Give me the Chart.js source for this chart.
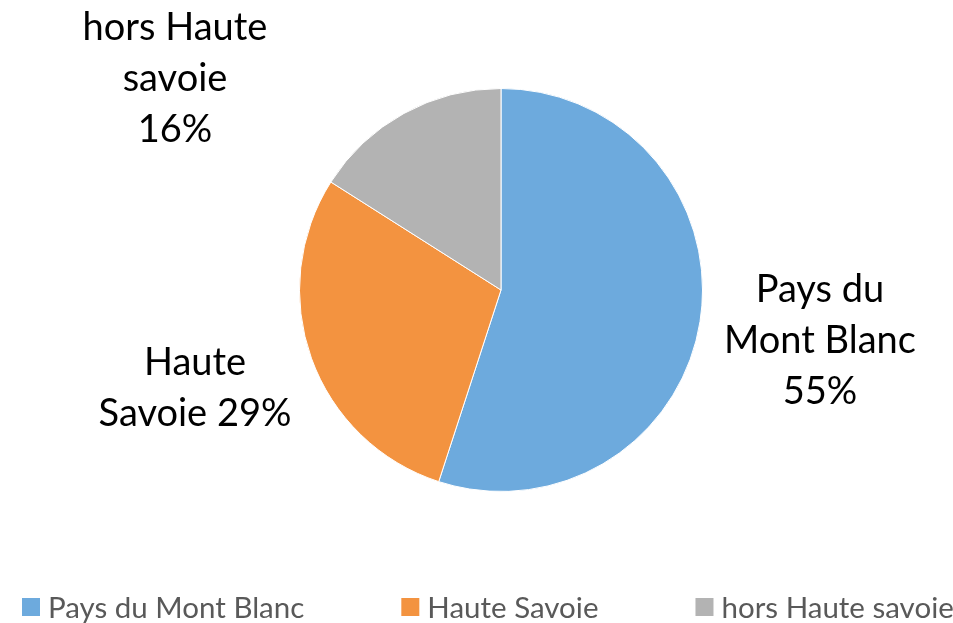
<!DOCTYPE html>
<html>
<head>
<meta charset="utf-8">
<script src="https://cdn.jsdelivr.net/npm/chart.js@4/dist/chart.umd.min.js"></script>
<style>
  html, body { margin: 0; padding: 0; background: #fff; }
  #wrap { width: 953px; height: 623px; }
</style>
</head>
<body>
<div id="wrap"><canvas id="pie"></canvas></div>
<script>
// data
var categories = ['Pays du Mont Blanc', 'Haute Savoie', 'hors Haute savoie'];
var values = [55, 29, 16];
var sliceColors = ['#6DAADD', '#F39340', '#B3B3B3'];
// label text as shown next to each slice (line breaks)
var sliceLabels = [
    ['Pays du', 'Mont Blanc', '55%'],
    ['Haute', 'Savoie 29%'],
    ['hors Haute', 'savoie', '16%']
];

// labels sit outside the pie, offset from its centre
var labelPlugin = {
    id: 'sliceLabels',
    afterDatasetsDraw: function(chart, args, opts){
        var ctx = chart.ctx;
        var arc = chart.getDatasetMeta(0).data[0];
        var cx = arc.x, cy = arc.y;
        ctx.save();
        ctx.font = opts.size + 'px ' + opts.family;
        ctx.fillStyle = '#000';
        ctx.textAlign = 'center';
        ctx.textBaseline = 'alphabetic';
        for (var i = 0; i < sliceLabels.length; i++) {
            var lines = sliceLabels[i];
            var x = cx + opts.offsets[i][0];
            var y = cy + opts.offsets[i][1];
            for (var j = 0; j < lines.length; j++) {
                var by = y + (j - (lines.length - 1) / 2) * opts.lineGap + opts.cap / 2;
                ctx.fillText(lines[j], x, by);
            }
        }
        ctx.restore();
    }
};

// legend row at the bottom, wide gaps like the original
var legendPlugin = {
    id: 'wideLegend',
    afterDraw: function(chart, args, opts){
        var ctx = chart.ctx;
        var colors = chart.data.datasets[0].backgroundColor;
        ctx.save();
        ctx.font = opts.size + 'px ' + opts.family;
        ctx.textBaseline = 'middle';
        ctx.textAlign = 'left';
        var x = opts.left;
        var y = opts.y;
        chart.data.labels.forEach(function(lbl, i){
            ctx.fillStyle = colors[i];
            ctx.fillRect(x, y - opts.box / 2, opts.box, opts.box);
            ctx.fillStyle = '#595959';
            ctx.fillText(lbl, x + opts.box + 8, y + 1);
            x += opts.box + 8 + ctx.measureText(lbl).width + opts.gap;
        });
        ctx.restore();
    }
};

var ctx = document.getElementById('pie').getContext('2d');
var chartObj = new Chart(ctx, {
    type: 'pie',
    data: {
        labels: categories,
        datasets: [{
            data: values,
            backgroundColor: sliceColors,
            borderColor: '#ffffff',
            borderWidth: 1
        }]
    },
    options: {
        responsive: true,
        maintainAspectRatio: false,
        animation: false,
        layout: { padding: { top: 88, bottom: 131, left: 49, right: 0 } },
        plugins: {
            legend: { display: false },
            tooltip: { enabled: false },
            sliceLabels: {
                family: 'Lato', size: 38, lineGap: 51, cap: 26,
                offsets: [[319, 50], [-306, 97], [-326, -212]]
            },
            wideLegend: { family: 'Lato', size: 29.5, box: 18, left: 22, y: 607, gap: 97 }
        }
    },
    plugins: [labelPlugin, legendPlugin]
});
</script>
</body>
</html>
